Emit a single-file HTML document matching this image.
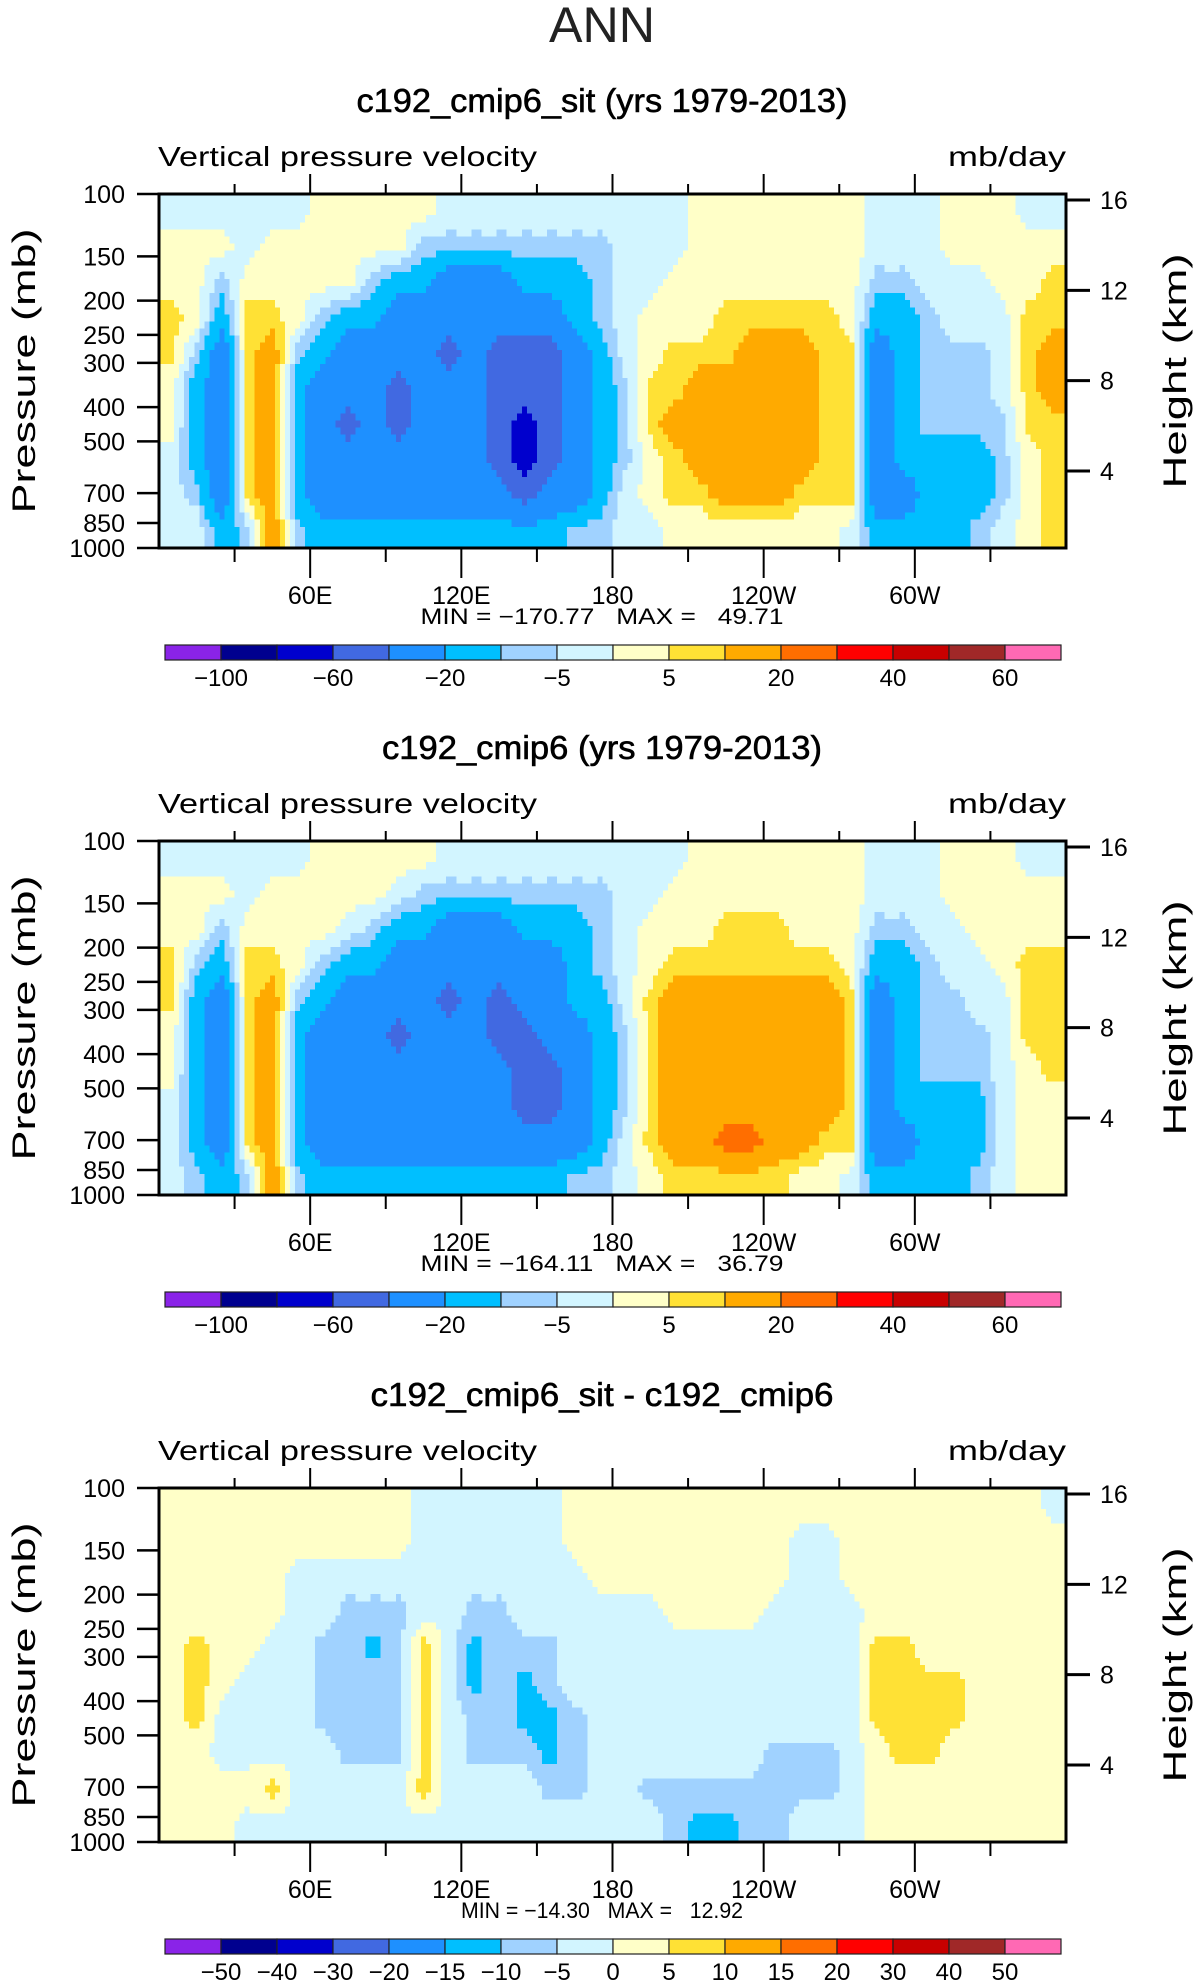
<!DOCTYPE html>
<html><head><meta charset="utf-8"><style>
html,body{margin:0;padding:0;background:#fff;}
svg{display:block;font-family:"Liberation Sans",sans-serif;}
</style></head><body>
<svg id="fig" width="1203" height="1987" viewBox="0 0 1203 1987" xmlns="http://www.w3.org/2000/svg">
<text x="602" y="42" text-anchor="middle" font-size="50" font-weight="300" fill="#222" textLength="106" lengthAdjust="spacingAndGlyphs">ANN</text>
</svg>
<script>
// ---------- data ----------
const lonCenters=[5,15,25,35,45,55,65,75,85,95,105,115,125,135,145,155,165,175,185,195,205,215,225,235,245,255,265,275,285,295,305,315,325,335,345,355];
const pressureTicks=[100,150,200,250,300,400,500,700,850,1000];
const heightTicks=[16,12,8,4];
const lonTickLabels=['60E','120E','180','120W','60W'];
const lonTickValues=[60,120,180,240,300];
const levelsAbs=[-100,-80,-60,-40,-20,-10,-5,0,5,10,20,30,40,50,60];
const levelsDiff=[-50,-40,-30,-20,-15,-10,-5,0,5,10,15,20,30,40,50];
const absLabels=['-100','-60','-20','-5','5','20','40','60'];
const absLabelIdx=[0,2,4,6,8,10,12,14];
const colors=['#8a23e8','#00008f','#0000cd','#4169e1','#1e90ff','#00bfff','#a0d2ff','#d2f5ff','#ffffc8','#ffe135','#ffaa00','#ff6e00','#ff0000','#c80000','#a02828','#ff69b4'];
// panel 1 values by longitude column (rows top->bottom)
const field1=[
[-2,2,2,7,7,2,2,-2,-2,-2],[-2,2,2,2,-7,-15,-15,-15,-7,-2],[-2,2,-7,-15,-30,-30,-30,-30,-30,-15],[-2,-2,2,7,7,7,7,7,7,-7],
[-2,2,2,7,15,15,15,15,15,15],[-2,2,2,2,-7,-15,-15,-15,-15,-7],[2,2,2,-7,-15,-30,-30,-30,-30,-15],[2,2,2,-15,-30,-30,-50,-30,-30,-15],
[2,2,-7,-15,-30,-30,-30,-30,-30,-15],[2,2,-15,-30,-30,-50,-50,-30,-30,-15],[2,-7,-15,-30,-30,-30,-30,-30,-30,-15],[-2,-7,-30,-30,-50,-30,-30,-30,-30,-15],
[-2,-7,-30,-30,-30,-30,-30,-30,-30,-15],[-2,-7,-30,-30,-50,-50,-50,-50,-30,-15],[-2,-7,-15,-30,-50,-50,-70,-70,-50,-15],[-2,-7,-15,-30,-50,-50,-50,-50,-30,-15],
[-2,-7,-15,-15,-30,-30,-30,-30,-30,-7],[-2,-7,-7,-7,-15,-15,-15,-15,-15,-7],[-2,-2,-2,-2,-2,-7,-7,-7,-2,-2],[-2,-2,-2,2,2,7,7,2,2,-2],
[-2,-2,2,2,7,7,15,7,7,2],[2,2,2,2,7,15,15,15,7,2],[2,2,2,7,7,15,15,15,15,2],[2,2,2,7,15,15,15,15,15,2],
[2,2,2,7,15,15,15,15,15,2],[2,2,2,7,15,15,15,15,7,2],[2,2,2,7,7,7,7,7,7,2],[2,2,2,2,7,7,7,7,7,-2],
[-2,-2,-7,-15,-30,-30,-30,-30,-30,-15],[-2,-2,-7,-15,-15,-15,-15,-15,-30,-15],[-2,-2,-2,-7,-7,-7,-7,-15,-15,-15],[2,2,-2,-2,-7,-7,-7,-15,-15,-15],
[2,2,-2,-2,-7,-7,-7,-15,-15,-7],[2,2,2,-2,-2,-2,-7,-7,-7,-2],[-2,2,2,7,7,7,7,2,2,2],[-2,2,7,7,15,15,7,7,7,7]];
const field2=[
[-2,2,2,7,7,2,2,-2,-2,-2],[-2,2,2,-7,-15,-15,-15,-15,-15,-7],[-2,2,-7,-15,-30,-30,-30,-30,-30,-15],[-2,-2,2,7,7,7,7,7,7,-7],
[-2,2,2,7,15,15,15,15,15,15],[-2,2,2,2,-7,-15,-15,-15,-15,-7],[2,2,2,-7,-15,-30,-30,-30,-30,-15],[2,2,-2,-15,-30,-30,-30,-30,-30,-15],
[2,2,-7,-15,-30,-30,-30,-30,-30,-15],[2,-2,-15,-30,-30,-50,-30,-30,-30,-15],[2,-7,-15,-30,-30,-30,-30,-30,-30,-15],[-2,-7,-30,-30,-50,-30,-30,-30,-30,-15],
[-2,-7,-30,-30,-30,-30,-30,-30,-30,-15],[-2,-7,-30,-30,-50,-50,-30,-30,-30,-15],[-2,-7,-15,-30,-30,-50,-50,-50,-30,-15],[-2,-7,-15,-30,-30,-30,-50,-50,-30,-15],
[-2,-7,-15,-15,-15,-30,-30,-30,-30,-7],[-2,-7,-7,-7,-15,-15,-15,-15,-15,-7],[-2,-2,-2,-2,-2,-7,-7,-7,-2,-2],[-2,-2,2,2,7,7,7,7,7,2],
[-2,2,2,7,15,15,15,15,15,7],[2,2,2,7,15,15,15,15,15,7],[2,2,7,7,15,15,15,15,25,7],[2,2,7,7,15,15,15,15,25,7],
[2,2,7,7,15,15,15,15,15,7],[2,2,2,7,15,15,15,15,15,2],[2,2,2,7,15,15,15,15,7,2],[2,2,2,2,7,7,7,7,7,-2],
[-2,-2,-7,-15,-30,-30,-30,-30,-30,-15],[-2,-2,-7,-15,-15,-15,-15,-15,-30,-15],[-2,-2,-2,-7,-7,-7,-7,-15,-15,-15],[2,2,-2,-2,-7,-7,-7,-15,-15,-15],
[2,2,2,-2,-2,-7,-7,-15,-15,-7],[2,2,2,2,-2,-2,-2,-2,-2,-2],[-2,2,2,7,7,7,2,2,2,2],[-2,2,2,7,7,7,7,2,2,2]];
const field3=[
[2,2,2,2,2,2,2,2,2,2],[2,2,2,2,7,7,7,2,2,2],[2,2,2,2,2,2,-2,-2,2,2],[2,2,2,2,2,-2,-2,-2,2,-2],
[2,2,2,2,-2,-2,-2,-2,7,-2],[2,2,-2,-2,-2,-2,-2,-2,-2,-2],[2,2,-2,-2,-7,-7,-7,-2,-2,-2],[2,2,-2,-7,-7,-7,-7,-7,-2,-2],
[2,2,-2,-7,-12,-7,-7,-7,-2,-2],[2,2,-2,-7,-7,-7,-7,-7,-2,-2],[-2,-2,-2,-2,7,7,7,7,7,-2],[-2,-2,-2,-2,-2,-2,-2,-2,-2,-2],
[-2,-2,-2,-7,-12,-12,-7,-7,-2,-2],[-2,-2,-2,-7,-7,-7,-7,-7,-2,-2],[-2,-2,-2,-2,-7,-12,-12,-7,-2,-2],[-2,-2,-2,-2,-7,-7,-12,-12,-7,-2],
[2,2,-2,-2,-2,-2,-7,-7,-7,-2],[2,2,2,-2,-2,-2,-2,-2,-2,-2],[2,2,2,-2,-2,-2,-2,-2,-2,-2],[2,2,2,-2,-2,-2,-2,-2,-7,-2],
[2,2,2,2,-2,-2,-2,-2,-7,-7],[2,2,2,2,-2,-2,-2,-2,-7,-12],[2,2,2,2,-2,-2,-2,-2,-7,-12],[2,2,2,2,-2,-2,-2,-2,-7,-7],
[2,2,2,-2,-2,-2,-2,-7,-7,-7],[2,-2,-2,-2,-2,-2,-2,-7,-7,-2],[2,-2,-2,-2,-2,-2,-2,-7,-7,-2],[2,2,2,-2,-2,-2,-2,-2,-2,-2],
[2,2,2,2,7,7,7,2,2,2],[2,2,2,2,7,7,7,7,2,2],[2,2,2,2,2,7,7,7,2,2],[2,2,2,2,2,7,7,2,2,2],
[2,2,2,2,2,2,2,2,2,2],[2,2,2,2,2,2,2,2,2,2],[2,2,2,2,2,2,2,2,2,2],[-2,2,2,2,2,2,2,2,2,2]];
const titles=['c192_cmip6_sit (yrs 1979-2013)','c192_cmip6 (yrs 1979-2013)','c192_cmip6_sit - c192_cmip6'];
const minVals=['-170.77','-164.11','-14.30'];
const maxVals=['49.71','36.79','12.92'];

// ---------- drawing ----------
const NS='http://www.w3.org/2000/svg';
const svg=document.getElementById('fig');
const X0=159,X1=1066,PT=194,PH=354,OFF=647;
function mk(tag,attrs,parent){const e=document.createElementNS(NS,tag);for(const k in attrs)e.setAttribute(k,attrs[k]);(parent||svg).appendChild(e);return e;}
function xScale(lon){return X0+lon/360*(X1-X0);}
function yScale(p,top){return top+Math.log10(p/100)*PH;}
function colorFor(v,levels){let i=0;while(i<levels.length&&v>=levels[i])i++;return colors[i];}
function sample(f,cx,ry){
  const nc=f.length,nr=f[0].length;
  const c=Math.min(Math.max(cx,0),nc-1),r=Math.min(Math.max(ry,0),nr-1);
  const c0=Math.floor(c),c1=Math.min(c0+1,nc-1),r0=Math.floor(r),r1=Math.min(r0+1,nr-1);
  const fc=c-c0,fr=r-r0;
  return f[c0][r0]*(1-fc)*(1-fr)+f[c1][r0]*fc*(1-fr)+f[c0][r1]*(1-fc)*fr+f[c1][r1]*fc*fr;
}
const fields=[field1,field2,field3];
for(let p=0;p<3;p++){
  const top=PT+p*OFF;
  const g=mk('g',{});
  
  
  const t=mk('text',{x:602,y:top-82,'text-anchor':'middle','font-size':33,'font-weight':'normal',stroke:'#000','stroke-width':0.6,textLength:p==1?440:(p==0?491:463),lengthAdjust:'spacingAndGlyphs'},g);
  t.textContent=titles[p];
  
  
  const vt=mk('text',{x:158,y:top-28,'font-size':28,textLength:379,lengthAdjust:'spacingAndGlyphs'},g);
  vt.textContent='Vertical pressure velocity';
  
  
  const ut=mk('text',{x:1066,y:top-28,'font-size':28,'text-anchor':'end',textLength:118,lengthAdjust:'spacingAndGlyphs'},g);
  ut.textContent='mb/day';
  
  
  // field
  const f=fields[p],levels=p==2?levelsDiff:levelsAbs;
  const fg=mk('g',{'shape-rendering':'crispEdges'},g);
  
  
  const SUBC=5,SUBR=5,nc=f.length,nr=f[0].length;
  const cw=(X1-X0)/(nc*SUBC),rh=PH/(nr*SUBR);
  for(let i=0;i<nc*SUBC;i++){
    for(let j=0;j<nr*SUBR;j++){
      const cx=(i+0.5)/SUBC-0.5,ry=(j+0.5)/SUBR-0.5;
      const v=sample(f,cx,ry);
      const r=mk('rect',{x:(X0+i*cw).toFixed(2),y:(top+j*rh).toFixed(2),width:(cw+0.6).toFixed(2),height:(rh+0.6).toFixed(2),fill:colorFor(v,levels)},fg);
      
      
    }
  }
  const frame=mk('rect',{x:X0,y:top,width:X1-X0,height:PH,fill:'none',stroke:'#000','stroke-width':3},g);
  
  
  // lon ticks
  for(let lon=30;lon<360;lon+=30){
    const major=lon%60==0,x=xScale(lon);
    mk('line',{x1:x,x2:x,y1:top,y2:top-(major?20:10),stroke:'#000','stroke-width':2},g);
    mk('line',{x1:x,x2:x,y1:top+PH,y2:top+PH+(major?30:14),stroke:'#000','stroke-width':2},g);
  }
  lonTickValues.forEach((lon,k)=>{
    const lt=mk('text',{x:xScale(lon),y:top+PH+56,'text-anchor':'middle','font-size':25},g);
    lt.textContent=lonTickLabels[k];
    
    
  });
  const mm=mk('text',{x:602,y:top+PH+76,'text-anchor':'middle','font-size':22,textLength:p==2?282:363,lengthAdjust:'spacingAndGlyphs'},g);
  mm.textContent='MIN = \u2212'+minVals[p].slice(1)+'\u00a0\u00a0\u00a0MAX =\u00a0\u00a0\u00a0'+maxVals[p];
  
  
  // pressure ticks
  pressureTicks.forEach(pr=>{
    const y=yScale(pr,top);
    mk('line',{x1:137,x2:X0,y1:y,y2:y,stroke:'#000','stroke-width':2.5},g);
    const pt=mk('text',{x:125,y:y+9,'text-anchor':'end','font-size':25},g);
    pt.textContent=pr;
    
    
  });
  const yl=mk('text',{x:0,y:0,'text-anchor':'middle','font-size':32,transform:`translate(35,${top+PH/2}) rotate(-90)`,textLength:285,lengthAdjust:'spacingAndGlyphs'},g);
  yl.textContent='Pressure  (mb)';
  
  
  heightTicks.forEach(h=>{
    const y=top+6+(16-h)/12*271;
    mk('line',{x1:X1,x2:1090,y1:y,y2:y,stroke:'#000','stroke-width':3},g);
    const ht=mk('text',{x:1100,y:y+9,'font-size':25},g);
    ht.textContent=h;
    
    
  });
  const hl=mk('text',{x:0,y:0,'text-anchor':'middle','font-size':32,transform:`translate(1186,${top+PH/2}) rotate(-90)`,textLength:235,lengthAdjust:'spacingAndGlyphs'},g);
  hl.textContent='Height  (km)';
  
  
  // colorbar
  const cb=mk('g',{},g);
  
  
  const CX0=165,CW=56,CY=top+451,CH=15;
  colors.forEach((c,k)=>{
    const r=mk('rect',{x:CX0+k*CW,y:CY,width:CW,height:CH,fill:c,stroke:'#222','stroke-width':1.2},cb);
    
    
  });
  const labs=p==2?levelsDiff.map(String):absLabels;
  const idx=p==2?levelsDiff.map((_,k)=>k):absLabelIdx;
  labs.forEach((l,k)=>{
    const ct=mk('text',{x:CX0+(idx[k]+1)*CW,y:CY+41,'text-anchor':'middle','font-size':24},cb);
    ct.textContent=l.replace('-','\u2212');
    
    
  });
}
</script>
</body></html>
